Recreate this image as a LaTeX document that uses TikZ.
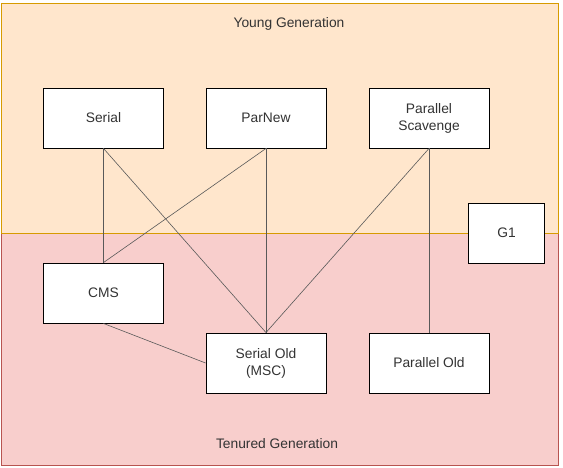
\documentclass[tikz,border=0pt]{standalone}
\usepackage{fontspec}
\setmainfont{Liberation Sans}
\begin{document}
\begin{tikzpicture}[x=1pt,y=-1pt,
  txt/.style={text=black!80, font=\fontsize{13.8}{17}\selectfont},
  gcbox/.style={txt, draw=black, line width=0.9pt, fill=white, minimum width=120pt, minimum height=60pt, inner sep=0pt, align=center},
  link/.style={draw=black!65, line width=0.6pt}]
\useasboundingbox (0,0) rectangle (563,468);
\fill[white] (0,0) rectangle (563,468);
% generations
\draw[fill={rgb,255:red,248;green,206;blue,204}, draw={rgb,255:red,184;green,84;blue,80}, line width=0.8pt] (1.5,233) rectangle (558,465);
\draw[fill={rgb,255:red,255;green,230;blue,204}, draw={rgb,255:red,215;green,155;blue,0}, line width=0.8pt] (1.5,3) rectangle (558,233);
\node[txt] (young) at (289,24) {Young Generation};
\node[txt] (tenured) at (277,444) {Tenured Generation};
% collectors
\node[gcbox] (serial) at (103.5,118) {Serial};
\node[gcbox] (parnew) at (266,118) {ParNew};
\node[gcbox] (ps) at (429,118) {Parallel\\Scavenge};
\node[gcbox] (cms) at (103.5,293) {CMS};
\node[gcbox] (serialold) at (266,363) {Serial Old\\(MSC)};
\node[gcbox] (parold) at (429,363) {Parallel Old};
\node[gcbox, minimum width=76pt] (g1) at (506.5,233) {G1};
% links
\draw[link] (serial.south) -- (cms.north);
\draw[link] (serial.south) -- (serialold.north);
\draw[link] (parnew.south) -- (cms.north);
\draw[link] (parnew.south) -- (serialold.north);
\draw[link] (ps.south) -- (serialold.north);
\draw[link] (ps.south) -- (parold.north);
\draw[link] (cms.south) -- (serialold.west);
\end{tikzpicture}
\end{document}
